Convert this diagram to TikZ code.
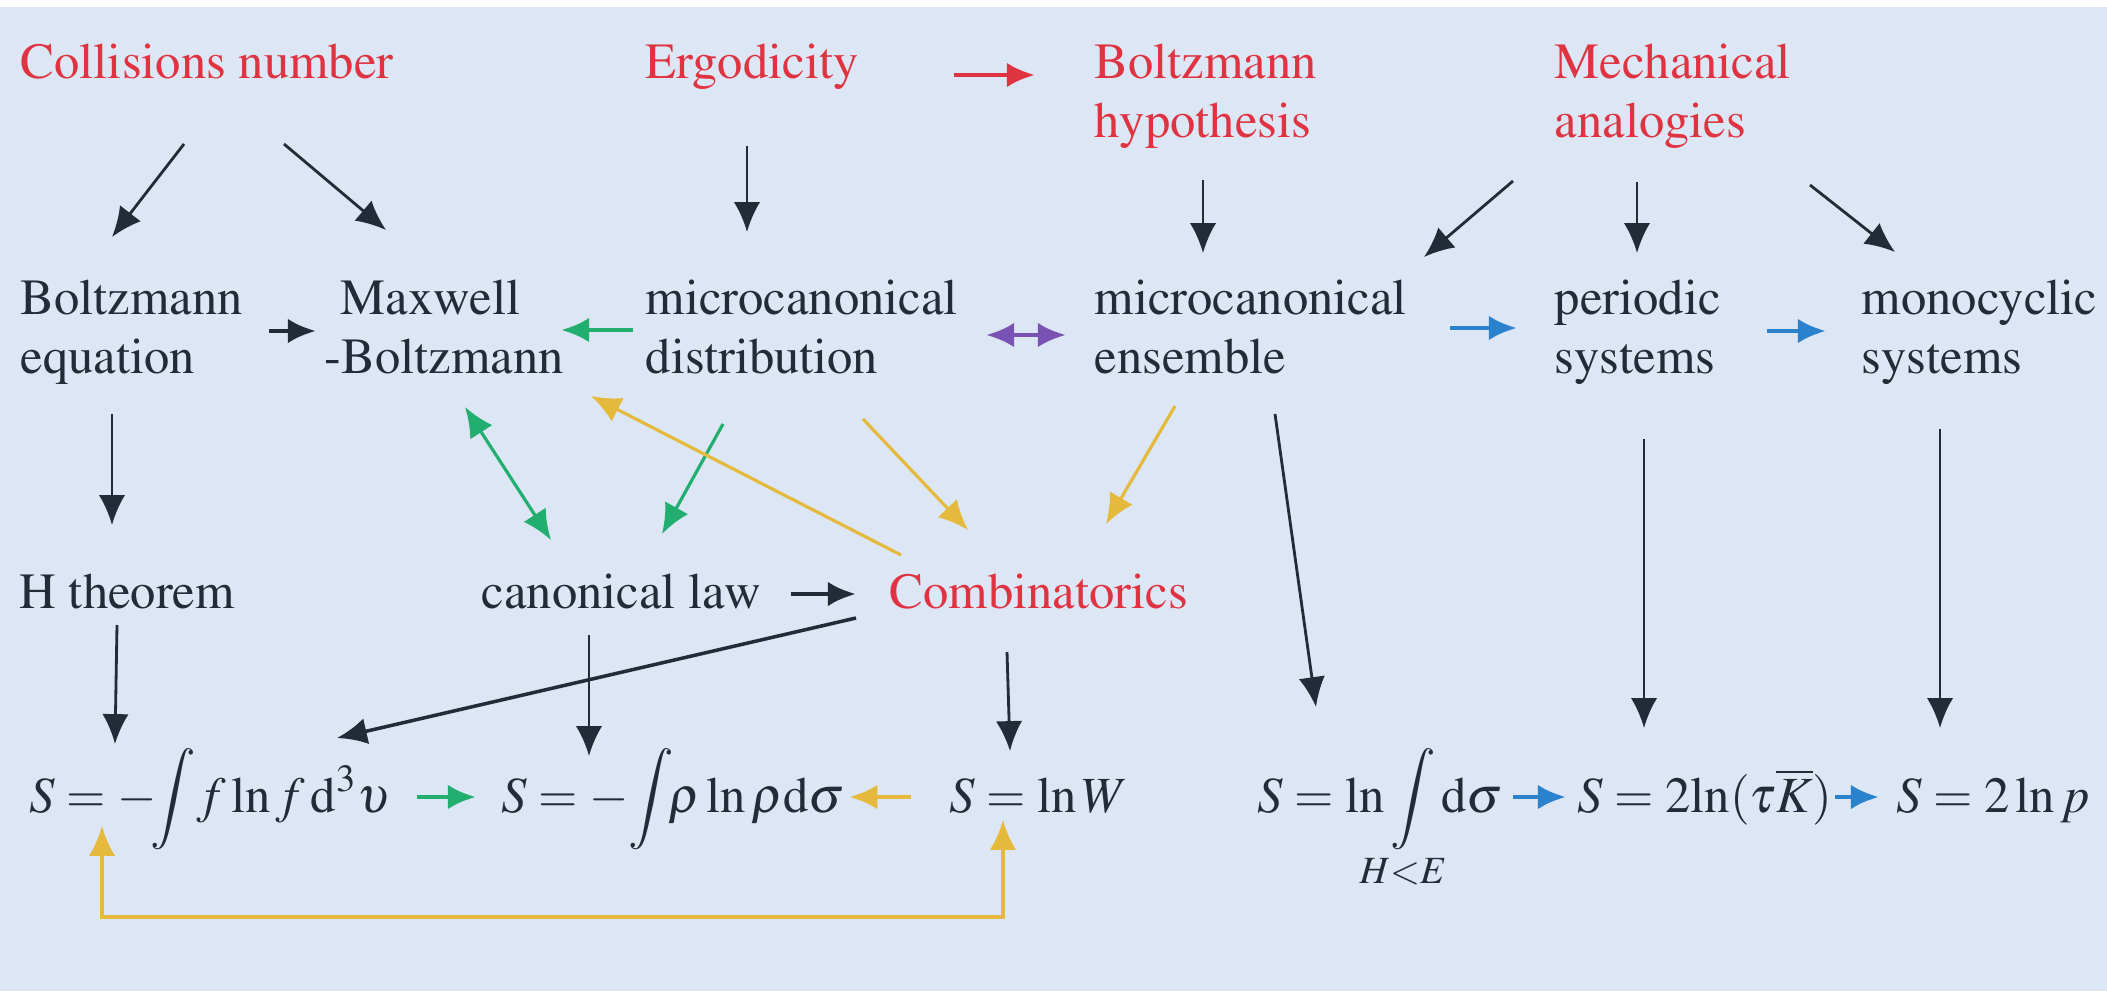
\documentclass[tikz,border=0pt]{standalone}
\usepackage[T1]{fontenc}
\usepackage{mathptmx}
\usepackage{tikz}
\usetikzlibrary{arrows.meta}
\definecolor{bgblue}{HTML}{DCE6F4}
\definecolor{ink}{HTML}{222B36}
\definecolor{redc}{HTML}{E03341}
\definecolor{grnc}{HTML}{22AE6E}
\definecolor{ylwc}{HTML}{E4B93C}
\definecolor{purc}{HTML}{7952B3}
\definecolor{bluc}{HTML}{2A82CC}

\begin{document}
\begin{tikzpicture}[x=0.01cm,y=-0.01cm,
  >={Latex[length=8.5pt,width=7.5pt]},
  every node/.style={inner sep=0pt,anchor=base west,text=ink,
    font=\fontsize{14.4}{16.5}\selectfont},
  hd/.style={text=redc},
  two/.style={align=left},
  blk/.style={draw=ink,line width=0.8pt,->},
  shortarr/.style={line width=1.4pt,-{Latex[length=8pt,width=7pt]}},
  thin/.style={line width=0.9pt}]
\useasboundingbox (0,0) rectangle (2107,991);
\fill[white] (0,0) rectangle (2107,7);
\fill[bgblue] (0,7) rectangle (2107,991);

% top row
\node[hd] (coll) at (20,79) {Collisions number};
\node[hd] (ergo) at (645,79) {Ergodicity};
\node[hd,two] (bhyp) at (1094,137) {Boltzmann\\hypothesis};
\node[hd,two] (mech) at (1554,137) {Mechanical\\analogies};

% second row
\node[two] (beq) at (20,373) {Boltzmann\\equation};
\node[two] (maxb) at (324,373) {\hspace*{4.5pt}Maxwell\\-Boltzmann};
\node[two] (mdist) at (645,373) {microcanonical\\distribution};
\node[two] (mens) at (1094,373) {microcanonical\\ensemble};
\node[two] (peri) at (1554,373) {periodic\\systems};
\node[two] (mono) at (1861,373) {monocyclic\\systems};

% third row
\node (hthm) at (19,608) {H theorem};
\node (canl) at (481,608) {canonical law};
\node[hd] (comb) at (889,608) {Combinatorics};

% entropy formulas
\node (ent1) at (29,812) {$\displaystyle S=-\!\!\int\! f\ln f\,\mathrm{d}^3\upsilon$};
\node (ent2) at (501,812) {$\displaystyle S=-\!\int\!\!\rho\ln\rho\mathrm{d}\sigma$};
\node (ent3) at (949,812) {$S=\ln W$};
\node (ent4) at (1257,812) {$\displaystyle S=\ln\int\limits_{\makebox[0pt]{$\scriptstyle H<E$}}\mathrm{d}\sigma$};
\node (ent5) at (1577,812) {$S=2\mkern-2mu\ln(\tau\overline{K})$};
\node (ent6) at (1896,812) {$S=2\ln p$};

% from the top row
\draw[blk] ([shift={(164,65)}]coll.base west) -- ([shift={(92,-136)}]beq.base west);
\draw[blk] ([shift={(264,65)}]coll.base west) -- ([shift={(62,-143)}]maxb.base west);
\draw[blk] ([shift={(102,67)}]ergo.base west) -- ([shift={(102,-141)}]mdist.base west);
\draw[shortarr,redc] ([shift={(309,-4)}]ergo.base west) -- ([shift={(-59,-62)}]bhyp.base west);
\draw[blk] ([shift={(109,43)}]bhyp.base west) -- ([shift={(109,-120)}]mens.base west);
\draw[blk] ([shift={(-41,44)}]mech.base west) -- ([shift={(330,-116)}]mens.base west);
\draw[blk] ([shift={(83,45)}]mech.base west) -- ([shift={(83,-120)}]peri.base west);
\draw[blk] ([shift={(256,48)}]mech.base west) -- ([shift={(34,-121)}]mono.base west);

% along the second row
\draw[shortarr,ink] ([shift={(249,-42)}]beq.base west) -- ([shift={(-8,-42)}]maxb.base west);
\draw[shortarr,grnc] ([shift={(-12,-43)}]mdist.base west) -- ([shift={(237,-43)}]maxb.base west);
\draw[shortarr,purc,{Latex[length=8pt,width=7pt]}-{Latex[length=8pt,width=7pt]}] ([shift={(341,-38)}]mdist.base west) -- ([shift={(-28,-38)}]mens.base west);
\draw[shortarr,bluc] ([shift={(356,-45)}]mens.base west) -- ([shift={(-37,-45)}]peri.base west);
\draw[shortarr,bluc] ([shift={(213,-42)}]peri.base west) -- ([shift={(-35,-42)}]mono.base west);

% second row down
\draw[blk] ([shift={(92,41)}]beq.base west) -- ([shift={(93,-83)}]hthm.base west);
\draw[thin,grnc,<->] ([shift={(141,34)}]maxb.base west) -- ([shift={(70,-68)}]canl.base west);
\draw[thin,grnc,->] ([shift={(78,51)}]mdist.base west) -- ([shift={(181,-74)}]canl.base west);
\draw[thin,ylwc,->] ([shift={(12,-53)}]comb.base west) -- ([shift={(267,23)}]maxb.base west);
\draw[thin,ylwc,->] ([shift={(218,46)}]mdist.base west) -- ([shift={(79,-78)}]comb.base west);
\draw[thin,ylwc,->] ([shift={(81,33)}]mens.base west) -- ([shift={(217,-84)}]comb.base west);
\draw[blk] ([shift={(181,41)}]mens.base west) -- ([shift={(59,-105)}]ent4.base west);
\draw[blk] ([shift={(90,66)}]peri.base west) -- ([shift={(67,-84)}]ent5.base west);
\draw[blk] ([shift={(79,56)}]mono.base west) -- ([shift={(44,-84)}]ent6.base west);

% third row
\draw[shortarr,ink] ([shift={(310,-14)}]canl.base west) -- ([shift={(-33,-14)}]comb.base west);
\draw[blk] ([shift={(98,17)}]hthm.base west) -- ([shift={(86,-68)}]ent1.base west);
\draw[blk] ([shift={(108,27)}]canl.base west) -- ([shift={(88,-56)}]ent2.base west);
\draw[blk,line width=1pt] ([shift={(-33,10)}]comb.base west) -- ([shift={(308,-74)}]ent1.base west);
\draw[blk] ([shift={(118,44)}]comb.base west) -- ([shift={(61,-61)}]ent3.base west);

% between the formulas
\draw[shortarr,grnc] ([shift={(26,-15)}]ent1.base east) -- ([shift={(-25,-15)}]ent2.base west);
\draw[shortarr,ylwc] ([shift={(-38,-15)}]ent3.base west) -- ([shift={(4,-15)}]ent2.base east);
\draw[shortarr,bluc] ([shift={(10,-15)}]ent4.base east) -- ([shift={(-11,-15)}]ent5.base west);
\draw[shortarr,bluc] ([shift={(2,-15)}]ent5.base east) -- ([shift={(-17,-15)}]ent6.base west);
\draw[thin,ylwc,<->] ([shift={(54,8)}]ent3.base west) -- ++(0,97) -| ([shift={(73,14)}]ent1.base west);
\end{tikzpicture}
\end{document}
